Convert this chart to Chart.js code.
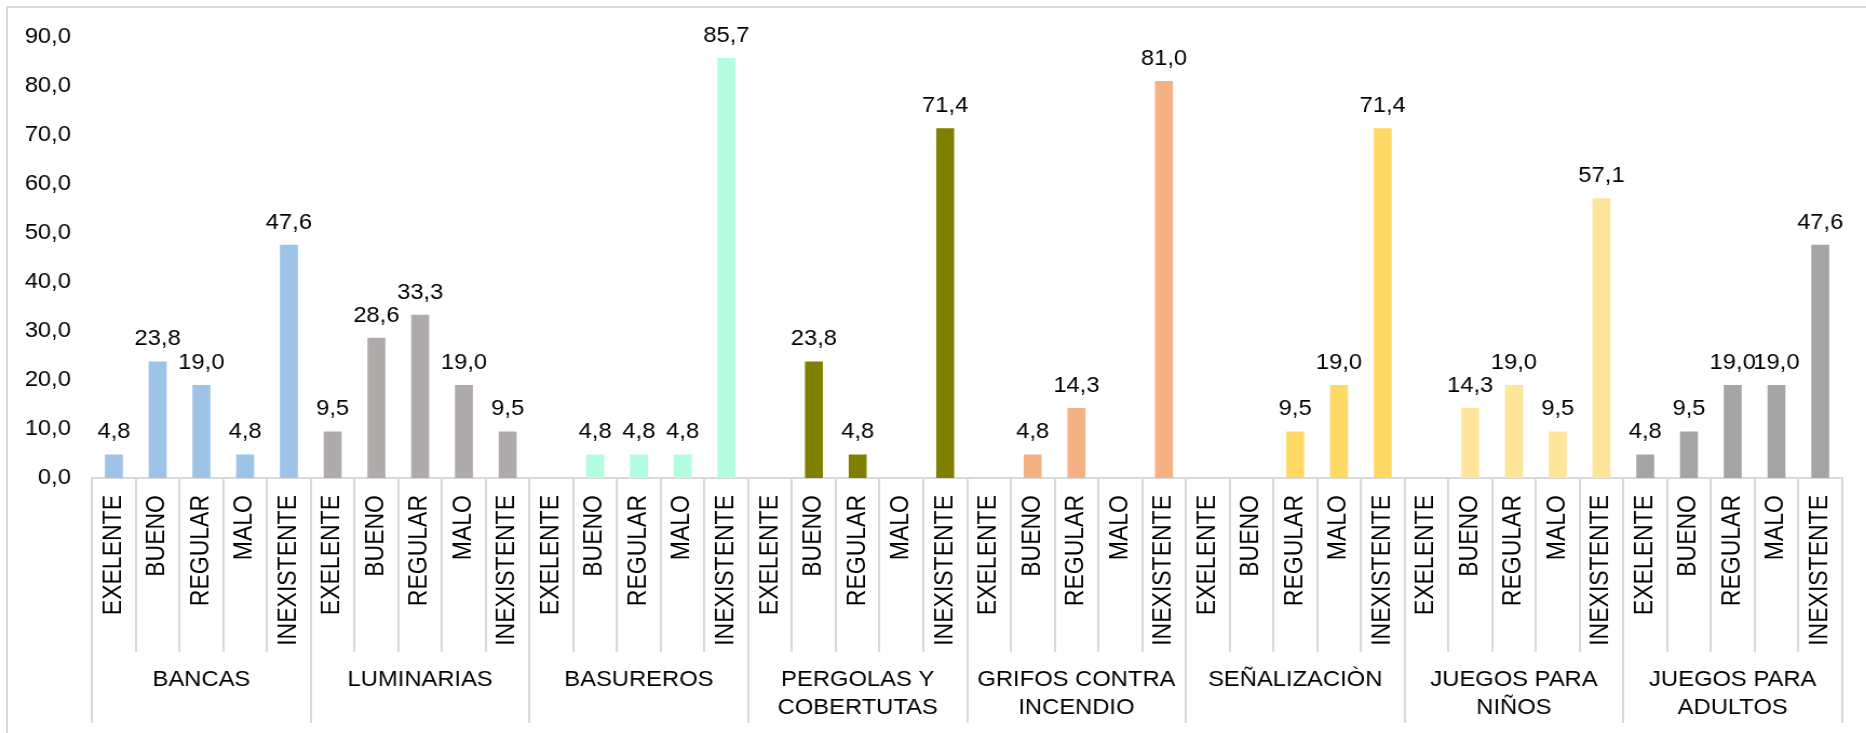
<!DOCTYPE html>
<html>
<head>
<meta charset="utf-8">
<script src="https://cdn.jsdelivr.net/npm/chart.js@4"></script>
<style>
    html, body { margin: 0; padding: 0; background: #ffffff; overflow: hidden; }
    /* the original picture is a little stretched sideways, so the canvas is too */
    #wrap {
        position: absolute; left: 0; top: 0; width: 1728px; height: 733px;
        transform: scaleX(1.0799); transform-origin: 0 0;
    }
    #frame {
        position: absolute; left: 6px; top: 6px; width: 1900px; height: 800px;
        border-top: 2px solid #d9d9d9; border-left: 2px solid #d9d9d9;
        pointer-events: none;
    }
</style>
</head>
<body>
<div id="wrap"><canvas id="estadoChart" width="1728" height="733"></canvas></div>
<div id="frame"></div>
<script>
const groups = [
    'BANCAS',
    'LUMINARIAS',
    'BASUREROS',
    ['PERGOLAS Y', 'COBERTUTAS'],
    ['GRIFOS CONTRA', 'INCENDIO'],
    'SEÑALIZACIÒN',
    ['JUEGOS PARA', 'NIÑOS'],
    ['JUEGOS PARA', 'ADULTOS']
];
const estados = ['EXELENTE', 'BUENO', 'REGULAR', 'MALO', 'INEXISTENTE'];

const bancas = [4.8, 23.8, 19.0, 4.8, 47.6];
const luminarias = [9.5, 28.6, 33.3, 19.0, 9.5];
const basureros = [null, 4.8, 4.8, 4.8, 85.7];
const pergolas = [null, 23.8, 4.8, null, 71.4];
const grifos = [null, 4.8, 14.3, null, 81.0];
const senalizacion = [null, null, 9.5, 19.0, 71.4];
const juegosNinos = [null, 14.3, 19.0, 9.5, 57.1];
const juegosAdultos = [4.8, 9.5, 19.0, 19.0, 47.6];

const yTicks = [0, 10, 20, 30, 40, 50, 60, 70, 80, 90];

const groupColors = ['#9dc3e6', '#afabab', '#b3fde0', '#808000', '#f4b183', '#ffd966', '#ffe599', '#a5a5a5'];

document.addEventListener("DOMContentLoaded", function() {
    const FONT = "'Liberation Sans', Arial, sans-serif";
    const allSeries = [bancas, luminarias, basureros, pergolas, grifos, senalizacion, juegosNinos, juegosAdultos];

    const labels = [];
    const values = [];
    const colors = [];
    allSeries.forEach(function(serie, g) {
        serie.forEach(function(v, i) {
            labels.push(estados[i]);
            values.push(v);
            colors.push(groupColors[g]);
        });
    });

    const fmt = function(v) {
        return Number(v).toFixed(1).replace('.', ',');
    };

    // etiquetas de valor encima de cada barra
    const valueLabels = {
        id: 'valueLabels',
        afterDatasetsDraw: function(chart) {
            const ctx = chart.ctx;
            const meta = chart.getDatasetMeta(0);
            ctx.save();
            ctx.font = '22px ' + FONT;
            ctx.fillStyle = '#000000';
            ctx.textAlign = 'center';
            ctx.textBaseline = 'alphabetic';
            meta.data.forEach(function(bar, i) {
                const v = values[i];
                if (v === null) return;
                ctx.fillText(fmt(v), bar.x, bar.y - 16);
            });
            ctx.restore();
        }
    };

    const ctx = document.getElementById('estadoChart').getContext('2d');
    new Chart(ctx, {
        type: 'bar',
        data: {
            labels: labels,
            datasets: [{
                data: values,
                backgroundColor: colors,
                borderWidth: 0,
                categoryPercentage: 1,
                barPercentage: 0.41
            }]
        },
        options: {
            responsive: false,
            animation: false,
            layout: { padding: { top: 37, right: 22.2, left: 0, bottom: 0 } },
            plugins: {
                legend: { display: false },
                tooltip: { enabled: false }
            },
            scales: {
                x: {
                    type: 'category',
                    position: 'bottom',
                    offset: true,
                    grid: {
                        offset: true,
                        drawOnChartArea: false,
                        drawTicks: true,
                        tickLength: 174,
                        color: '#d9d9d9',
                        lineWidth: 2
                    },
                    border: { display: true, color: '#d9d9d9', width: 2 },
                    ticks: {
                        autoSkip: false,
                        minRotation: 90,
                        maxRotation: 90,
                        padding: -157,
                        color: '#000000',
                        font: { family: FONT, size: 23 }
                    },
                    afterFit: function(scale) { scale.height = 174; }
                },
                x2: {
                    type: 'category',
                    position: 'bottom',
                    labels: groups,
                    offset: true,
                    grid: {
                        offset: true,
                        drawOnChartArea: false,
                        drawTicks: true,
                        tickLength: 71,
                        color: '#d9d9d9',
                        lineWidth: 2
                    },
                    border: { display: false },
                    ticks: {
                        autoSkip: false,
                        maxRotation: 0,
                        minRotation: 0,
                        padding: -57,
                        color: '#000000',
                        font: { family: FONT, size: 22, lineHeight: 1.27 }
                    },
                    afterFit: function(scale) { scale.height = 81; }
                },
                y: {
                    min: 0,
                    max: 90,
                    afterBuildTicks: function(scale) {
                        scale.ticks = yTicks.map(function(v) { return { value: v }; });
                    },
                    grid: { display: false, drawTicks: false },
                    border: { display: false },
                    ticks: {
                        padding: 19.5,
                        color: '#000000',
                        font: { family: FONT, size: 22 },
                        callback: function(value) { return fmt(value); }
                    },
                    afterFit: function(scale) { scale.width = 85.2; }
                }
            }
        },
        plugins: [valueLabels]
    });
});
</script>
</body>
</html>
